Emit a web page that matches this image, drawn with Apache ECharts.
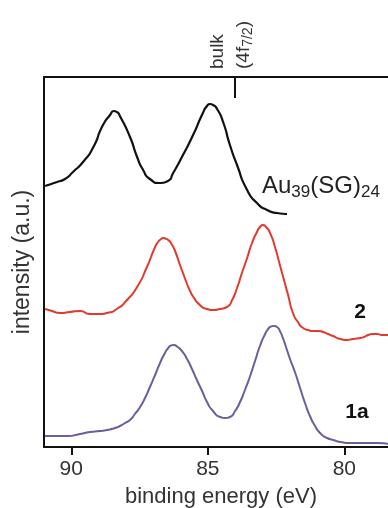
<!DOCTYPE html>
<html>
<head>
<meta charset="utf-8">
<script src="https://cdn.jsdelivr.net/npm/echarts@6/dist/echarts.min.js"></script>
<style>html,body{margin:0;padding:0;background:#fff}#c{width:388px;height:508px}</style>
</head>
<body>
<div id="c"></div>
<script>
// binding energy (eV) and intensity (a.u.) for each spectrum
const auEnergy = [90.96, 90.52, 90.23, 89.94, 89.57, 89.21, 88.84, 88.58, 88.44, 88.33, 88.22, 87.85, 87.59, 87.37, 87.12, 86.75, 86.46, 86.27, 85.91, 85.54, 85.18, 85.03, 84.92, 84.81, 84.66, 84.44, 84.19, 83.93, 83.56, 83.20, 82.83, 82.47, 82.10];
const auIntensity = [261, 265, 268, 275, 285, 299, 322, 332, 336, 335, 331, 310, 290, 277, 268, 264, 266, 274, 292, 312, 334, 341, 343, 342, 338, 325, 302, 282, 257, 244, 237, 234, 233];

const s2Energy = [90.96, 90.71, 90.41, 90.05, 89.68, 89.32, 88.95, 88.69, 88.33, 87.96, 87.59, 87.23, 86.93, 86.82, 86.71, 86.64, 86.56, 86.45, 86.34, 86.20, 86.02, 85.87, 85.76, 85.65, 85.54, 85.29, 85.03, 84.81, 84.55, 84.30, 84.11, 83.93, 83.75, 83.56, 83.38, 83.20, 83.09, 82.98, 82.87, 82.72, 82.54, 82.36, 82.21, 82.06, 81.88, 81.70, 81.51, 81.33, 81.15, 80.96, 80.78, 80.60, 80.41, 80.15, 79.90, 79.68, 79.42, 79.28, 79.13, 78.99, 78.80, 78.62, 78.40];
const s2Intensity = [138, 136, 134, 135, 136, 133, 133, 134, 138, 147, 160, 180, 200, 205, 208, 209, 208.5, 207, 203.5, 196, 182, 171, 163, 156, 150.5, 142, 138, 137, 138, 140, 147, 159, 174, 189, 204, 215, 220, 222, 220, 214, 200, 182, 167, 152, 134, 125, 119, 117, 116, 116, 115, 113, 111, 108, 107, 108, 109, 110, 112, 113, 113, 112, 112];

const s1aEnergy = [90.96, 90.56, 90.16, 89.68, 89.32, 88.95, 88.69, 88.40, 88.22, 88.03, 87.85, 87.67, 87.48, 87.30, 87.12, 86.93, 86.75, 86.57, 86.45, 86.34, 86.24, 86.13, 85.95, 85.76, 85.58, 85.40, 85.21, 85.03, 84.81, 84.55, 84.37, 84.19, 84.00, 83.82, 83.64, 83.45, 83.27, 83.09, 82.90, 82.79, 82.68, 82.58, 82.47, 82.36, 82.25, 82.10, 81.99, 81.81, 81.62, 81.44, 81.26, 81.07, 80.89, 80.63, 80.41, 80.15, 79.79, 79.24, 78.80, 78.40];
const s1aIntensity = [11, 11, 11, 13, 15, 16, 17, 19, 21, 24, 27, 33, 40, 49, 60, 72, 84, 94, 99, 101.5, 102, 100.5, 96, 88, 78, 67, 56, 45, 36, 30, 29, 30, 36, 45, 57, 71, 86, 101, 113, 118, 120.5, 121, 120, 116, 109, 97, 88, 75, 59, 44, 31, 21, 14, 9, 7, 5, 4, 4, 4, 3];

const xTicks = [90, 85, 80];
const bulkEnergy = [84.0];
const xRange = [78.4, 91];
const yRange = [0, 370];

const FONT = '"Liberation Sans", Arial, Helvetica, sans-serif';
const zip = (a, b) => a.map((v, i) => [v, b[i]]);

const chart = echarts.init(document.getElementById('c'), null, {renderer: 'canvas'});
chart.setOption({
  animation: false,
  backgroundColor: '#fff',
  grid: {left: 44, right: 0, top: 77, bottom: 61, containLabel: false, outerBoundsMode: 'none'},
  xAxis: [{
    type: 'value', inverse: true, min: xRange[0], max: xRange[1],
    name: 'binding energy (eV)', nameLocation: 'middle', nameGap: 39,
    nameTextStyle: {fontFamily: FONT, fontSize: 22, color: '#333', padding: [0, 0, 0, 10]},
    axisLine: {show: true, onZero: false, lineStyle: {color: '#111', width: 2}},
    axisTick: {show: true, customValues: xTicks, inside: false, length: 8, lineStyle: {color: '#111', width: 2}},
    axisLabel: {show: true, customValues: xTicks, margin: 12, fontFamily: FONT, fontSize: 21, color: '#333'},
    splitLine: {show: false}
  }, {
    type: 'value', position: 'top', inverse: true, min: xRange[0], max: xRange[1],
    axisLine: {show: true, onZero: false, lineStyle: {color: '#111', width: 2}},
    axisTick: {show: true, customValues: bulkEnergy, inside: true, length: 21, lineStyle: {color: '#111', width: 2}},
    axisLabel: {show: false},
    splitLine: {show: false}
  }],
  yAxis: {
    type: 'value', min: yRange[0], max: yRange[1],
    name: 'intensity (a.u.)', nameLocation: 'middle', nameGap: 10,
    nameTextStyle: {fontFamily: FONT, fontSize: 23, color: '#333'},
    axisLine: {show: true, onZero: false, lineStyle: {color: '#111', width: 2}},
    axisTick: {show: false}, axisLabel: {show: false}, splitLine: {show: false}
  },
  series: [
    {type: 'line', data: zip(auEnergy, auIntensity), showSymbol: false, smooth: 0.7,
     lineStyle: {color: '#111', width: 2.2}},
    {type: 'line', data: zip(s2Energy, s2Intensity), showSymbol: false, smooth: 0.7,
     lineStyle: {color: '#e23a2e', width: 2}},
    {type: 'line', data: zip(s1aEnergy, s1aIntensity), showSymbol: false, smooth: 0.7,
     lineStyle: {color: '#6c5d9e', width: 2}}
  ],
  graphic: [
    {type: 'text', x: 262, y: 186, style: {
      text: '{a|Au}{s|39}{a|(SG)}{s|24}',
      verticalAlign: 'middle', align: 'left',
      rich: {a: {fontFamily: FONT, fontSize: 24, fill: '#222'},
             s: {fontFamily: FONT, fontSize: 17, fill: '#222', padding: [12, 0, 0, 0]}}
    }},
    {type: 'text', x: 360, y: 312, style: {text: '2', align: 'center', verticalAlign: 'middle',
      fontFamily: FONT, fontSize: 21, fontWeight: 'bold', fill: '#111'}},
    {type: 'text', x: 357, y: 412, style: {text: '1a', align: 'center', verticalAlign: 'middle',
      fontFamily: FONT, fontSize: 21, fontWeight: 'bold', fill: '#111'}},
    {type: 'text', x: 218, y: 69, rotation: Math.PI / 2, style: {text: 'bulk', align: 'left', verticalAlign: 'middle',
      fontFamily: FONT, fontSize: 19, fill: '#333'}},
    {type: 'text', x: 244, y: 69, rotation: Math.PI / 2, style: {
      text: '{a|(4f}{s|7/2}{a|)}', align: 'left', verticalAlign: 'middle',
      rich: {a: {fontFamily: FONT, fontSize: 19, fill: '#333'},
             s: {fontFamily: FONT, fontSize: 14, fill: '#333', padding: [8, 0, 0, 0]}}
    }}
  ]
});
</script>
</body>
</html>
